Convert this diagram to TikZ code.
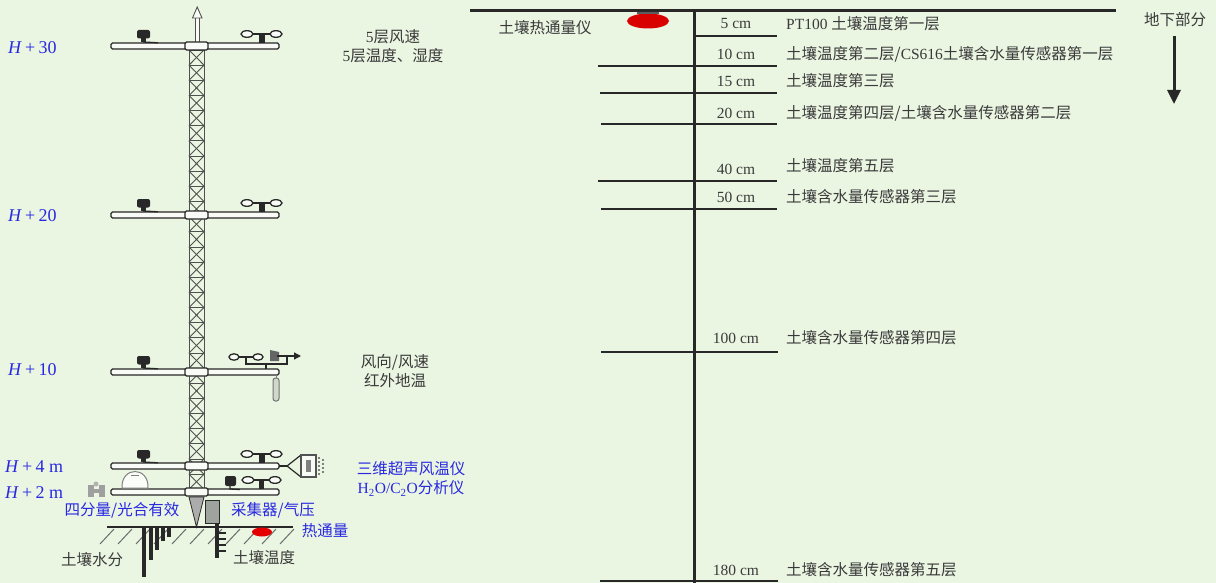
\documentclass[tikz,border=0pt]{standalone}
\usepackage{fontspec}
\setmainfont{Liberation Serif}
\newfontfamily\cjk{Noto Sans CJK SC}
\usetikzlibrary{arrows.meta}
\definecolor{bg}{RGB}{234,245,226}
\definecolor{txt}{RGB}{58,58,58}
\definecolor{lblue}{RGB}{40,40,225}
\definecolor{dk}{RGB}{40,40,40}
\definecolor{lat}{RGB}{80,80,80}
\newcommand\fs{\fontsize{15.5}{19}\selectfont}
\newcommand\hs{\fontsize{18}{20}\selectfont}
\tikzset{
  lbl/.style={font=\fs, text=txt, inner sep=0pt, align=center},
  blbl/.style={font=\fs, text=lblue, inner sep=0pt, align=center},
  hlbl/.style={font=\hs, text=lblue, inner sep=0pt, anchor=west},
  deplbl/.style={font=\fs, text=txt, inner sep=0pt},
  desc/.style={font=\fs, text=txt, inner sep=0pt, anchor=west},
  rule/.style={line width=2.6pt, draw=dk},
  latt/.style={line width=0.9pt, draw=lat},
  barst/.style={line width=1.3pt, draw=dk, fill=white!70!bg, rounded corners=1.5pt},
  sens/.style={fill=dk},
  cup/.style={line width=1.3pt, draw=dk, fill=white!70!bg},
  probe/.style={line width=3.5pt, draw=dk},
  hatch/.style={line width=1pt, draw=gray!85!black},
}
\begin{document}
\begin{tikzpicture}[x=1pt,y=-1pt]
\useasboundingbox (0,0) rectangle (1216,583);
\fill[bg] (0,0) rectangle (1216,583);

% ================= LEFT: tower =================
% mast tip
\draw[line width=0.9pt, draw=lat, fill=white!70!bg] (195,43) rectangle (199.5,17);
\draw[line width=0.9pt, draw=lat, fill=white!70!bg] (192.5,18) -- (197.2,7) -- (202,18) -- cycle;
% lattice
\draw[latt] (189,50) -- (189,490);
\draw[latt] (204,50) -- (204,490);
\foreach \k in {0,...,28}{
  \pgfmathsetmacro\ya{50+15.15*\k}
  \pgfmathsetmacro\yb{50+15.15*(\k+1)}
  \draw[latt] (189,\ya) -- (204,\ya);
  \draw[latt] (189,\ya) -- (204,\yb);
  \draw[latt] (204,\ya) -- (189,\yb);
}
% cross bars
\foreach \by in {46,215,372,466,492}{
  \draw[barst] (111,\by-3) rectangle (279,\by+3);
  \draw[barst] (185,\by-4) rectangle (208,\by+4);
}
% left shields on bars
\foreach \by in {46,215,372,466}{
  \fill[sens, rounded corners=2pt] (137,\by-16) rectangle (150,\by-7.5);
  \fill[sens] (141,\by-8) rectangle (146,\by-4);
  \draw[line width=1.3pt, draw=dk] (143,\by-4) -- (158,\by-3.2);
}
% right anemometers
\foreach \by in {46,215,466}{
  \draw[line width=1.3pt, draw=dk] (253,\by-12) -- (270,\by-12);
  \draw[cup] (247,\by-12) ellipse (6 and 3.3);
  \draw[cup] (276,\by-12) ellipse (6 and 3.3);
  \fill[sens] (259,\by-12) rectangle (265,\by-3);
}
% H+10 wind vane
\draw[line width=1.3pt, draw=dk] (239,357) -- (253,357);
\draw[cup] (234,357) ellipse (5 and 3.2);
\draw[cup] (258,357) ellipse (5 and 3.2);
\draw[line width=2.5pt, draw=dk] (246,357) -- (246,364) -- (287,364) -- (287,357);
\draw[line width=2.5pt, draw=dk] (266,364) -- (266,369);
\fill[gray!70!dk] (270,350) -- (279,352) -- (279,361) -- (270,361) -- cycle;
\draw[line width=1.3pt, draw=dk, -{Triangle[width=7pt,length=7pt]}] (277,356) -- (301,356);
\draw[line width=1pt, draw=gray] (276,375) -- (276,379);
\draw[line width=1pt, draw=gray!90!black, fill=gray!25!bg, rounded corners=2.5pt] (273,378) rectangle (279,401);
% H+4 sonic anemometer
\draw[line width=1.2pt, draw=dk] (279,466) -- (287,466);
\draw[line width=1.2pt, draw=dk] (301,455) -- (287,466) -- (301,477);
\draw[line width=1.2pt, draw=dk!80, fill=white!60!bg] (301,455) rectangle (316,477);
\fill[gray] (306,460) rectangle (311,472);
\draw[line width=1.2pt, draw=gray, dash pattern=on 2pt off 2pt] (319,457) -- (319,475);
\draw[line width=1.2pt, draw=gray, dash pattern=on 2pt off 2pt] (323,459) -- (323,473);
% H+2 right sensors
\fill[sens, rounded corners=2pt] (225,476) rectangle (236,486);
\draw[line width=1.3pt, draw=dk] (230,486) -- (230,489) -- (240,489.5);
\draw[line width=1.3pt, draw=dk] (254,480) -- (269,480);
\draw[cup] (248,480) ellipse (6 and 3.3);
\draw[cup] (275,480) ellipse (6 and 3.3);
\fill[sens] (259,480) rectangle (264,489);
% H+2 left sensors
\fill[gray!75] (88,485) rectangle (94,497);
\fill[gray!75] (99,485) rectangle (105,497);
\fill[gray!75] (92,489) rectangle (101,493);
\fill[gray!60] (96,484) circle (2.5);
\draw[line width=1pt, draw=gray, fill=white!80!bg] (122,488) .. controls (121,466) and (149,466) .. (148,488) -- cycle;
\draw[line width=0.8pt, draw=gray] (131,475) -- (139,475);
% cone and collector box
\draw[line width=0.8pt, draw=dk, fill=gray!65] (189,497) -- (204,497) -- (196.5,527) -- cycle;
\draw[line width=1pt, draw=dk, fill=gray!70!bg] (205,500) rectangle (219,523);
% ground
\foreach \hx in {100,118,136,154,172,190,208,226,244,262,280}{
  \draw[hatch] (\hx,544) -- (\hx+14,529);
}
\draw[line width=2.5pt, draw=dk] (107,527) -- (293,527);
% soil moisture probes
\draw[probe] (144,527) -- (144,577);
\draw[probe] (151,527) -- (151,560);
\draw[probe] (157,527) -- (157,550);
\draw[probe] (163,527) -- (163,541);
\draw[probe] (169,527) -- (169,537);
% soil temperature probe
\draw[probe] (217,523) -- (217,558);
\foreach \ty in {533,539,545,551}{
  \draw[line width=2pt, draw=dk] (217,\ty) -- (226,\ty);
}
% heat flux plate
\fill[red!90!black] (262,532) ellipse (10 and 4.5);

% left labels
\node[hlbl] (h30) at (8,48) {\textit{H}\hspace{0.18em}+\hspace{0.18em}30};
\node[hlbl] (h20) at (8,216) {\textit{H}\hspace{0.18em}+\hspace{0.18em}20};
\node[hlbl] (h10) at (8,370) {\textit{H}\hspace{0.18em}+\hspace{0.18em}10};
\node[hlbl] (h4) at (5,467) {\textit{H}\hspace{0.18em}+\hspace{0.18em}4 m};
\node[hlbl] (h2) at (5,493) {\textit{H}\hspace{0.18em}+\hspace{0.18em}2 m};
\node[lbl] (l5) at (393,46) {5{\cjk 层风速}\\5{\cjk 层温度、湿度}};
\node[lbl] (lwind) at (395,371) {{\cjk 风向/风速}\\{\cjk 红外地温}};
\node[blbl] (lsonic) at (411,479) {{\cjk 三维超声风温仪}\\H\textsubscript{2}O/C\textsubscript{2}O{\cjk 分析仪}};
\node[blbl] (lrad) at (122,510) {{\cjk 四分量/光合有效}};
\node[blbl] (lcol) at (273,510) {{\cjk 采集器/气压}};
\node[blbl] (lheat) at (325,531) {{\cjk 热通量}};
\node[lbl] (lsm) at (92,560) {{\cjk 土壤水分}};
\node[lbl] (lst) at (264,558) {{\cjk 土壤温度}};

% ================= RIGHT: soil profile =================
\draw[line width=3pt, draw=dk] (470,11) -- (1116,11);
\draw[line width=3pt, draw=dk] (694,11) -- (694,583);
\draw[rule] (694,36) -- (777,36);
\draw[rule] (598,66) -- (777,66);
\draw[rule] (600,93) -- (777,93);
\draw[rule] (601,124) -- (777,124);
\draw[rule] (598,181) -- (777,181);
\draw[rule] (601,209) -- (777,209);
\draw[rule] (601,352) -- (778,352);
\draw[rule] (600,581) -- (778,581);
% heat flux plate device
\fill[red!85!black] (648,21) ellipse (21 and 7.5);
\fill[gray!60!dk] (637,12) rectangle (659,14.5);

\node[lbl] (lhf) at (545,28) {{\cjk 土壤热通量仪}};
\node[deplbl] (d5) at (736,24) {5 cm};
\node[deplbl] (d10) at (736,54) {10 cm};
\node[deplbl] (d15) at (736,81) {15 cm};
\node[deplbl] (d20) at (736,113) {20 cm};
\node[deplbl] (d40) at (736,169) {40 cm};
\node[deplbl] (d50) at (736,197) {50 cm};
\node[deplbl] (d100) at (736,338) {100 cm};
\node[deplbl] (d180) at (736,570) {180 cm};
\node[desc] (t5) at (786,24) {PT100 {\cjk 土壤温度第一层}};
\node[desc] (t10) at (786,54) {{\cjk 土壤温度第二层/}CS616{\cjk 土壤含水量传感器第一层}};
\node[desc] (t15) at (786,81) {{\cjk 土壤温度第三层}};
\node[desc] (t20) at (786,113) {{\cjk 土壤温度第四层/土壤含水量传感器第二层}};
\node[desc] (t40) at (786,166) {{\cjk 土壤温度第五层}};
\node[desc] (t50) at (786,197) {{\cjk 土壤含水量传感器第三层}};
\node[desc] (t100) at (786,338) {{\cjk 土壤含水量传感器第四层}};
\node[desc] (t180) at (786,570) {{\cjk 土壤含水量传感器第五层}};
\node[lbl] (under) at (1175,20) {{\cjk 地下部分}};
\coordinate (arrend) at (1174,104);
\draw[line width=3pt, draw=dk, -{Triangle[width=13pt,length=14pt]}] (1174,36) -- (arrend);
\end{tikzpicture}
\end{document}
